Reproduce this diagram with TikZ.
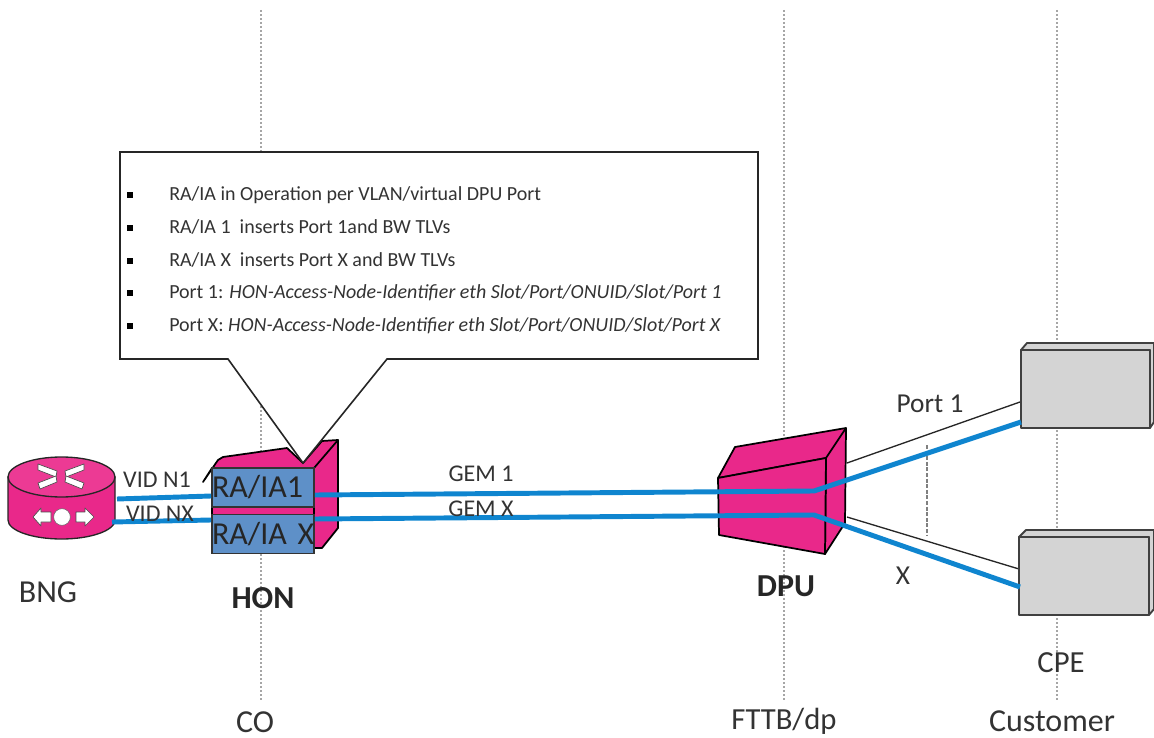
\documentclass[tikz,border=0pt]{standalone}
\usepackage{fontspec}
\setmainfont{Carlito}
\usetikzlibrary{calc}
\definecolor{pink}{HTML}{E9288A}
\definecolor{pinktop}{HTML}{EC3A94}
\definecolor{ltblue}{HTML}{5E90C8}
\definecolor{wire}{HTML}{0F85CF}
\definecolor{cpegray}{HTML}{D4D4D4}
\definecolor{txt}{HTML}{333333}
\newcommand{\fsz}[1]{\fontsize{#1}{#1}\selectfont}
\tikzset{
  x=0.75pt,y=-0.75pt,
  pinkface/.style={fill=pink,draw=black,line width=1.3pt,line join=round},
  cpeface/.style={fill=cpegray,draw=black!75,line width=1.4pt,line join=round},
  dotline/.style={draw=black!35,line width=2.2pt,dash pattern=on 1.5pt off 1.5pt},
  bluewire/.style={draw=wire,line width=3.7pt,line join=round},
  thinwire/.style={draw=black!85,line width=1pt},
  lbl/.style={text=txt,inner sep=0pt,font=\fsz{18}},
  biglbl/.style={text=txt,inner sep=0pt,font=\fsz{24}},
  boldlbl/.style={text=black!85,inner sep=0pt,font=\fsz{24}\bfseries},
  listline/.style={text=txt,inner sep=0pt,anchor=west,font=\fsz{15}},
  bul/.style={fill=black,minimum size=4pt,inner sep=0pt,draw=none},
  rabox/.style={fill=ltblue,draw=black!80,line width=1.2pt,inner sep=0pt,minimum width=76.5pt,text width=76.5pt,align=left,minimum height=29pt,text=black!85,font=\fsz{24}},
  whitearrow/.style={fill=white,draw=black!70,line width=0.5pt,line join=round},
}
\begin{document}
\begin{tikzpicture}
\useasboundingbox (0,0) rectangle (1154,738);
% dotted verticals
\coordinate (coT) at (261,10); \coordinate (coB) at (261,700);
\coordinate (dpT) at (784,10); \coordinate (dpB) at (784,700);
\coordinate (cuT) at (1057,10); \coordinate (cuB) at (1057,700);
\draw[dotline] (coT) -- (coB);
\draw[dotline] (dpT) -- (dpB);
\draw[dotline] (cuT) -- (cuB);
% thin drops to CPE
\coordinate (dpuA) at (847,463); \coordinate (dpuB) at (847,517);
\coordinate (cpeA) at (1020,402); \coordinate (cpeB) at (1019,569);
\draw[thinwire] (dpuA) -- (cpeA);
\draw[thinwire] (dpuB) -- (cpeB);
% vertical dashed mark
\coordinate (markT) at (927,445); \coordinate (markB) at (927,535);
\draw[draw=black!50,line width=2.2pt,dash pattern=on 3pt off 1.2pt] (markT) -- (markB);
% CPEs
\draw[cpeface] (1021,350) -- (1027,343) -- (1154,343) -- (1154,422) -- (1150,428) -- (1150,350) -- cycle;
\draw[cpeface] (1021,350) rectangle (1150,428);
\draw[cpeface] (1019,537) -- (1026,530) -- (1154,530) -- (1154,609) -- (1149,615) -- (1149,537) -- cycle;
\draw[cpeface] (1019,537) rectangle (1149,615);
% BNG
\draw[fill=pink,draw=black!85,line width=1pt] (8,477) -- (8,520) arc[start angle=180,end angle=360,x radius=53.5,y radius=-19] -- (115,477) -- cycle;
\draw[fill=pinktop,draw=black!85,line width=1pt] (61.5,477) ellipse[x radius=53.5,y radius=-20];
% BNG glyphs
\draw[whitearrow] (38,464) -- (57,471) -- (56,477) -- (38,470) -- cycle;
\draw[whitearrow] (84,464) -- (65,471) -- (66,477) -- (84,470) -- cycle;
\draw[whitearrow] (40,489) -- (57,482) -- (56,476) -- (38,483) -- cycle;
\draw[whitearrow] (82,489) -- (65,482) -- (66,476) -- (84,483) -- cycle;
\draw[whitearrow] (33,517) -- (41,508) -- (41,512) -- (51,512) -- (51,522) -- (41,522) -- (41,526) -- cycle;
\draw[whitearrow] (94,517) -- (85,508) -- (85,512) -- (76,512) -- (76,522) -- (85,522) -- (85,526) -- cycle;
\node[circle,fill=white,draw=black!60,line width=0.4pt,minimum size=12.5pt,inner sep=0pt] (bngc) at (62,517) {};
\coordinate (bng1) at (117,499); \coordinate (bngX) at (112,522);
% HON
\draw[pinkface] (203,482) -- (218,460) -- (223,457) -- (287,448) -- (303,463) -- (322,441) -- (338,440) -- (338,528) -- (322,548) -- (314,548) -- (314,468) -- (212,468) -- cycle;
\draw[pinkface] (314,468) -- (338,440);
\draw[fill=pink,draw=black,line width=1pt] (212,505) rectangle (314,517);
% callout
\coordinate (tip) at (303,463);
\draw[fill=white,draw=black!85,line width=1.2pt,line join=miter] (120,152) -- (758,152) -- (758,359) -- (387,359) -- (tip) -- (228,359) -- (120,359) -- cycle;
\foreach \nm/\yy in {a/195,b/228,c/261,d/293,e/326}{\node[bul] (bul\nm) at (130,\yy) {};}
\node[listline] (l1) at (169,195) {RA/IA in Operation per VLAN/virtual DPU Port};
\node[listline] (l2) at (169,227) {RA/IA 1\ \ inserts Port 1and BW TLVs};
\node[listline] (l3) at (169,260) {RA/IA X\ \ inserts Port X and BW TLVs};
\node[listline] (l4) at (169,293) {Port 1: \textit{HON-Access-Node-Identifier eth Slot/Port/ONUID/Slot/Port 1}};
\node[listline] (l5) at (169,326) {Port X: \textit{HON-Access-Node-Identifier eth Slot/Port/ONUID/Slot/Port X}};
% DPU
\draw[pinkface] (735,447) -- (846,428) -- (845,523) -- (825,554) -- (826,458) -- (718,478) -- cycle;
\draw[pinkface] (718,478) -- (826,458) -- (825,554) -- (719,535) -- cycle;
\draw[pinkface] (826,458) -- (846,428);
% blue wires
\coordinate (dpuW1) at (814,491); \coordinate (dpuWX) at (814,515);
\coordinate (cpeW1) at (1021,422); \coordinate (cpeWX) at (1020,587);
\node[rabox] (ra1) at (263,487.5) {\mbox{RA/IA1}};
\node[rabox] (rax) at (263,534) {\mbox{RA/IA X}};
\draw[bluewire] (bng1) -- (ra1.west |- 0,496);
\draw[bluewire] (bngX) -- (rax.west |- 0,520);
\draw[bluewire] (ra1.east |- 0,495) -- (dpuW1) -- (cpeW1);
\draw[bluewire] (rax.east |- 0,519) -- (dpuWX) -- (cpeWX);
% labels
\node[lbl] (vid1) at (157,480) {VID N1};
\node[lbl] (vidx) at (160,514) {VID NX};
\node[lbl] (gem1) at (481,474) {GEM 1};
\node[lbl] (gemx) at (481,509) {GEM X};
\node[biglbl,font=\fsz{20.5}] (port1) at (930,404) {Port 1};
\node[biglbl,font=\fsz{20.5}] (xl) at (903,576) {X};
\node[biglbl] (bngl) at (48,592) {BNG};
\node[boldlbl] (honl) at (263,598) {HON};
\node[boldlbl] (dpul) at (786,586) {DPU};
\node[biglbl] (col) at (255,722) {CO};
\node[biglbl,font=\fsz{23}] (fttb) at (784,721) {FTTB/dp};
\node[biglbl] (cust) at (1052,721) {Customer};
\node[biglbl,font=\fsz{23}] (cpel) at (1061,663) {CPE};
\end{tikzpicture}
\end{document}
